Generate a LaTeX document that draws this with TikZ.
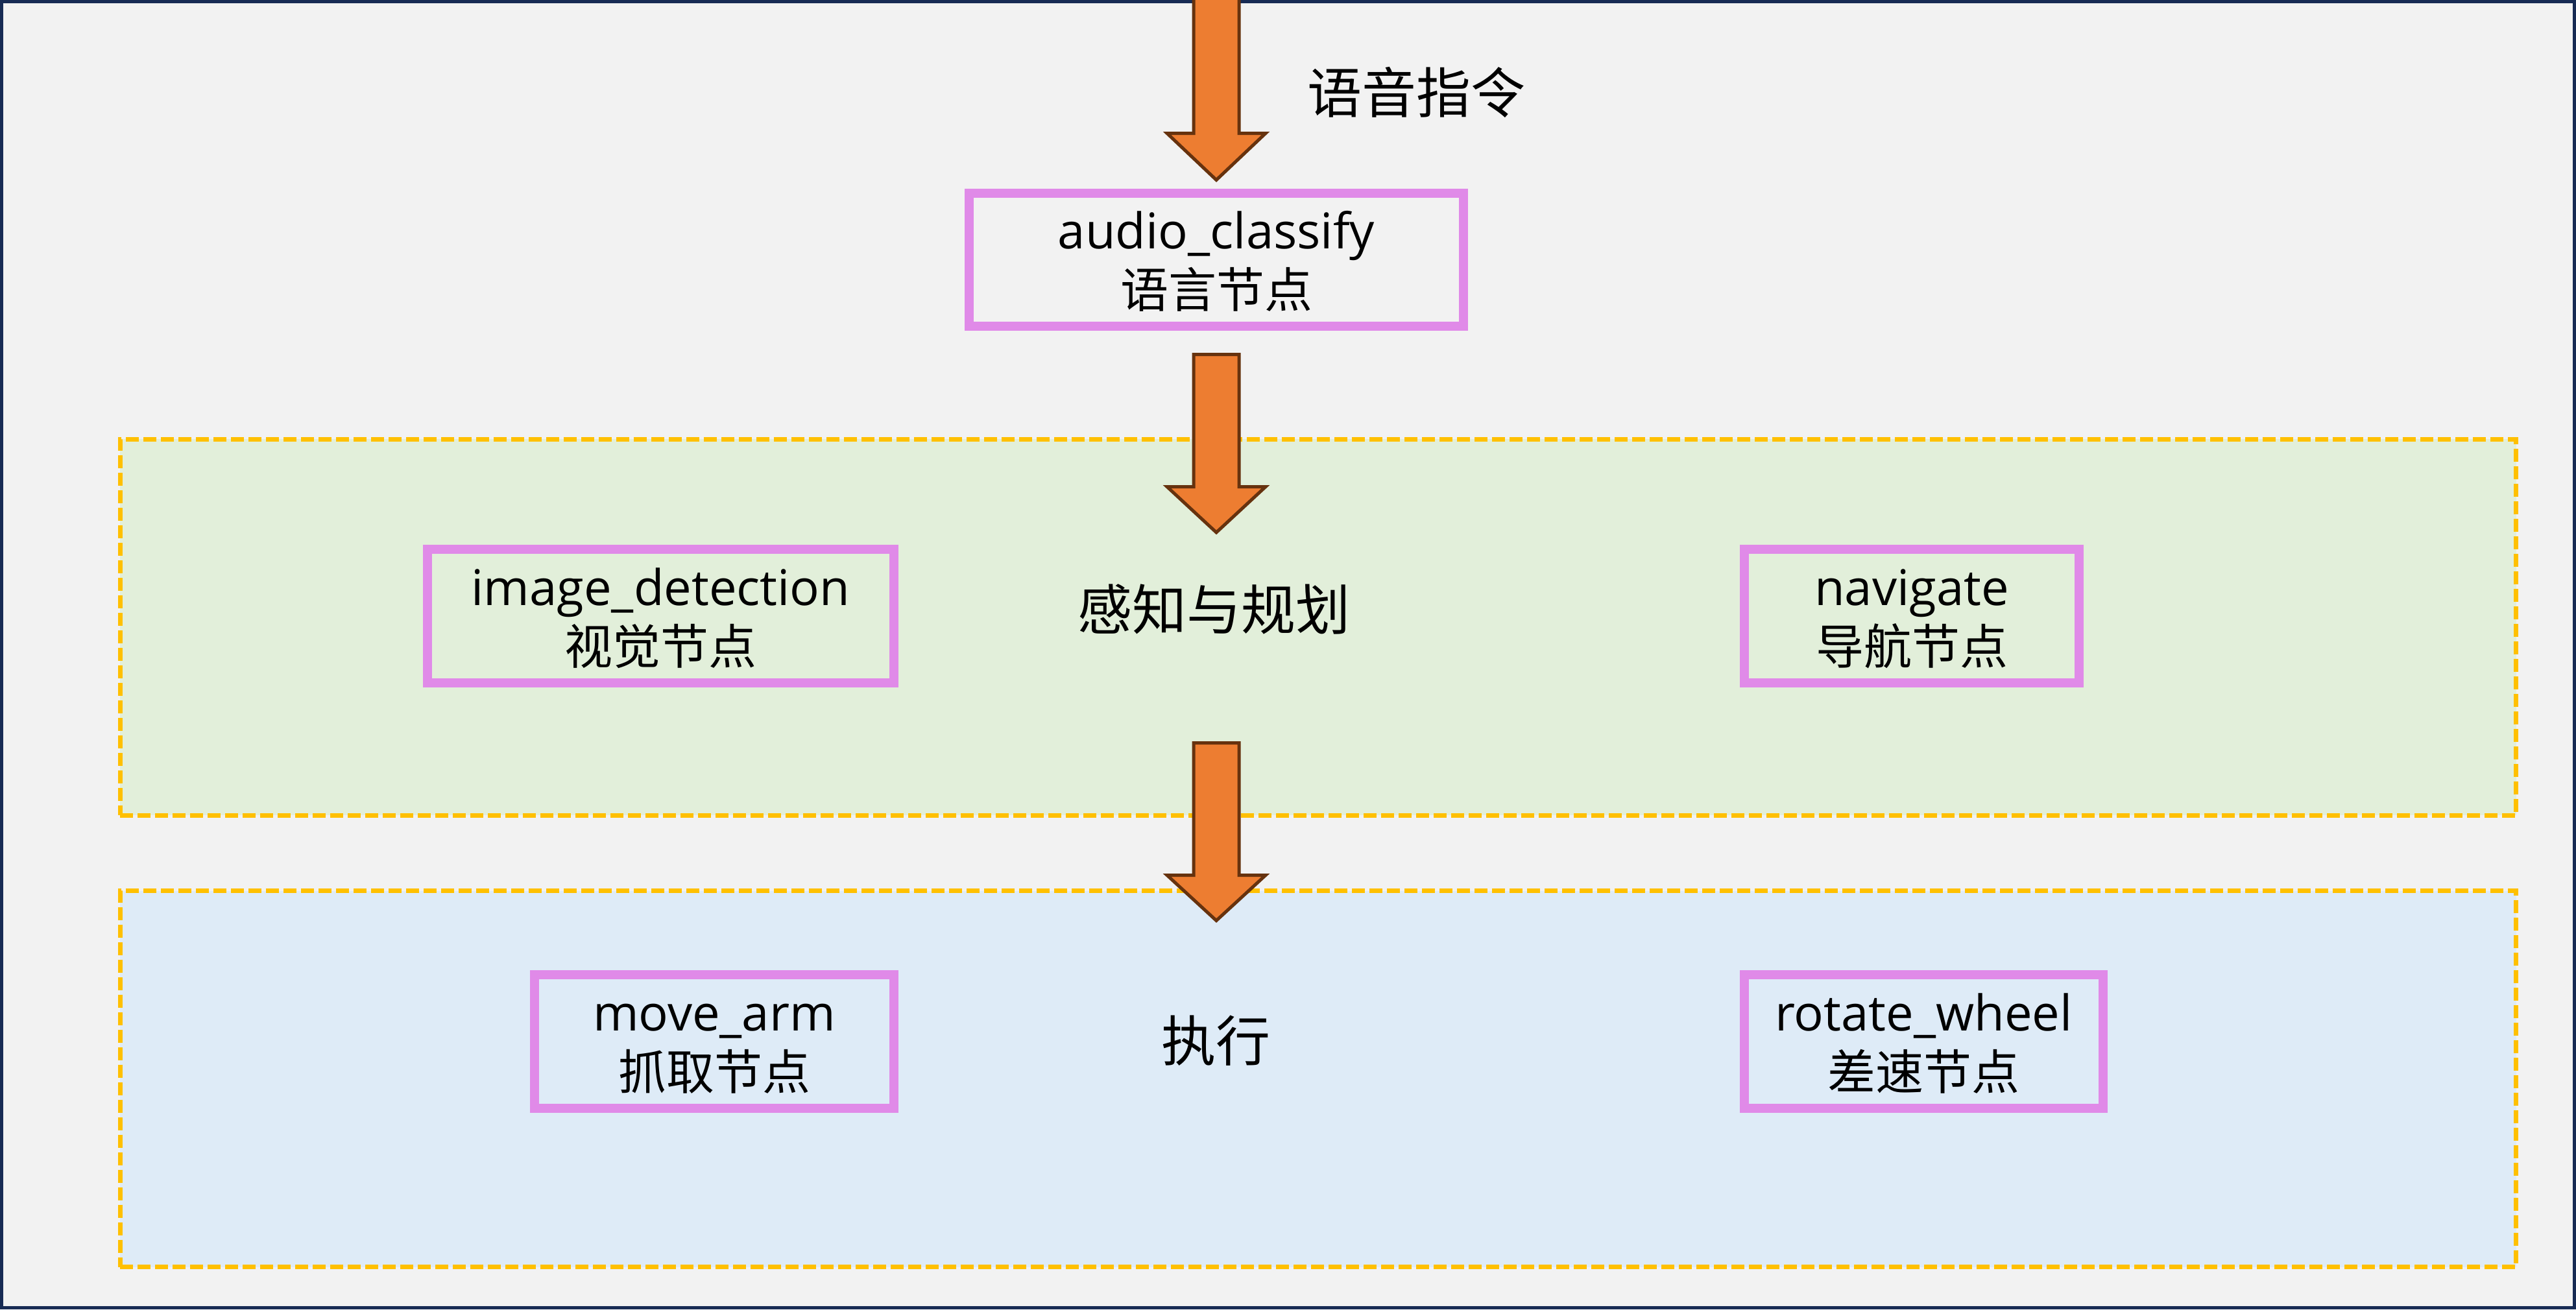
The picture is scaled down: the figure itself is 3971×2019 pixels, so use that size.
\documentclass[tikz,border=0pt]{standalone}
\usepackage{fontspec}
\setmainfont{Open Sans}
\newfontfamily\cjk{Noto Sans CJK SC}
\definecolor{bgcol}{RGB}{242,242,242}
\definecolor{framecol}{RGB}{23,43,84}
\definecolor{boxpink}{RGB}{224,138,232}
\definecolor{dashyellow}{RGB}{255,192,0}
\definecolor{greenfill}{RGB}{226,239,218}
\definecolor{bluefill}{RGB}{222,235,247}
\definecolor{arroworange}{RGB}{237,125,49}
\definecolor{arrowbrown}{RGB}{102,50,14}
\newcommand\myblockarrow[3]{%
  \draw[arrowshape] (1875-35,#1) -- (1875+35,#1) -- (1875+35,#2) -- (1875+76,#2)
    -- (1875,#3) -- (1875-76,#2) -- (1875-35,#2) -- cycle;}
\begin{document}
\begin{tikzpicture}[x=0.5pt,y=-0.5pt,
  nodebox/.style={draw=boxpink, line width=7pt, inner sep=0pt, minimum height=103pt},
  region/.style={draw=dashyellow, line width=3.5pt, dash pattern=on 10pt off 3.5pt, inner sep=0pt,
    minimum width=1846.75pt, minimum height=290pt},
  arrowshape/.style={fill=arroworange, draw=arrowbrown, line width=2.5pt, line join=miter},
  latintxt/.style={font=\fontsize{38}{45}\selectfont, anchor=base, inner sep=0pt},
  cjktxt/.style={font=\cjk\fontsize{37}{44}\selectfont, anchor=base, inner sep=0pt},
  labeltxt/.style={font=\cjk\fontsize{42}{50}\selectfont, anchor=base, inner sep=0pt}]
\useasboundingbox (0,0) rectangle (3971,2019);
\fill[bgcol] (0,0) rectangle (3971,2019);
\draw[framecol, line width=2.5pt] (2.5,2.5) rectangle (3968.5,2016.5);

% regions
\node[region, fill=greenfill] (perception) at (2031.75,967) {};
\node[region, fill=bluefill] (execution) at (2031.75,1663.5) {};

% node boxes
\node[nodebox, minimum width=381pt, minimum height=102.5pt] (audio) at (1875,400.5) {};
\node[latintxt, yshift=8.5pt] (audioA) at (audio.center) {audio\_classify};
\node[cjktxt, yshift=-37pt] (audioB) at (audio.center) {语言节点};

\node[nodebox, minimum width=359.5pt] (image) at (1018.5,950) {};
\node[latintxt, yshift=8.5pt] (imageA) at (image.center) {image\_detection};
\node[cjktxt, yshift=-37pt] (imageB) at (image.center) {视觉节点};

\node[nodebox, minimum width=258pt] (navigate) at (2947,950) {};
\node[latintxt, yshift=8.5pt] (navigateA) at (navigate.center) {navigate};
\node[cjktxt, yshift=-37pt] (navigateB) at (navigate.center) {导航节点};

\node[nodebox, minimum width=277pt] (movearm) at (1101,1606) {};
\node[latintxt, yshift=8.5pt] (movearmA) at (movearm.center) {move\_arm};
\node[cjktxt, yshift=-37pt] (movearmB) at (movearm.center) {抓取节点};

\node[nodebox, minimum width=276.5pt] (wheel) at (2965.5,1606) {};
\node[latintxt, yshift=8.5pt] (wheelA) at (wheel.center) {rotate\_wheel};
\node[cjktxt, yshift=-37pt] (wheelB) at (wheel.center) {差速节点};

% labels
\node[labeltxt] (cmd) at (2183,174) {语音指令};
\node[labeltxt] (perceptionlabel) at (1871,971) {感知与规划};
\node[labeltxt] (executionlabel) at (1874.5,1636) {执行};

% block arrows
\myblockarrow{-10}{205.5}{277.5}
\myblockarrow{546.5}{750.5}{821}
\myblockarrow{1145.5}{1349.5}{1419.5}
\end{tikzpicture}
\end{document}
